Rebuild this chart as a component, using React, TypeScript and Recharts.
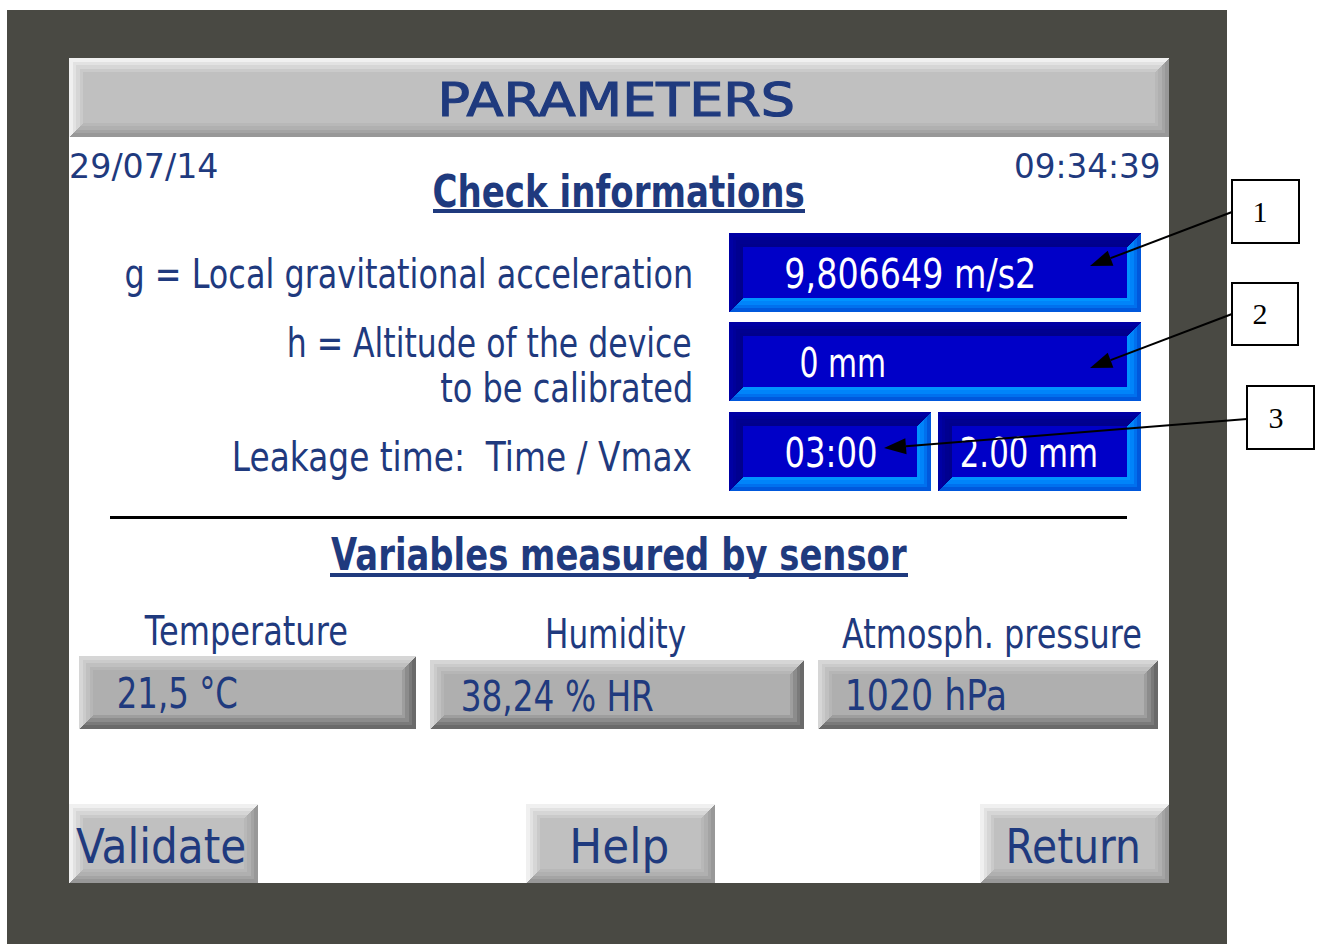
import React from 'react';
import { Surface, Rectangle, Polygon, Layer } from 'recharts';

// ---- content (text) ----
const headerTitle = 'PARAMETERS';
const stamps = ['29/07/14', '09:34:39'];
const sectionTitles = ['Check informations', 'Variables measured by sensor'];
const paramLabels = [
  'g = Local gravitational acceleration',
  'h = Altitude of the device',
  'to be calibrated',
  'Leakage time:  Time / Vmax',
];
const paramValues = ['9,806649 m/s2', '0 mm', '03:00', '2.00 mm'];
const sensorNames = ['Temperature', 'Humidity', 'Atmosph. pressure'];
const sensorValues = ['21,5 °C', '38,24 % HR', '1020 hPa'];
const buttonLabels = ['Validate', 'Help', 'Return'];
const calloutNumbers = ['1', '2', '3'];

// ---- styles ----
const W = 1317;
const H = 944;
const NAVY = '#1f3a7e';
const FRAME = '#494943';
const FONT = '"DejaVu Sans", sans-serif';
const SERIF = '"Liberation Serif", "DejaVu Serif", serif';

const GREY_LIGHT = ['#f0f0f0', '#e2e2e2', '#d6d6d6', '#cacaca'];
const GREY_DARK = ['#989898', '#a4a4a4', '#b0b0b0', '#b8b8b8'];
const GREY_FILL = '#c0c0c0';
const SENS_LIGHT = ['#d6d6d6', '#cbcbcb', '#c0c0c0', '#b6b6b6'];
const SENS_DARK = ['#6a6a6a', '#7a7a7a', '#8c8c8c', '#9e9e9e'];
const SENS_FILL = '#afafaf';
const BLUE_LIGHT = ['#0000a4', '#00009a', '#000090', '#00008c'];
const BLUE_DARK = ['#0058dc', '#0070ee', '#0084fa', '#0094ff'];
const BLUE_FILL = '#0000c8';
const BEVEL_STEPS = [4, 3, 4, 3];

let measureCtx: CanvasRenderingContext2D | null = null;
function measureInk(text: string, size: number, bold: boolean, family: string) {
  if (!measureCtx) {
    const c = document.createElement('canvas');
    measureCtx = c.getContext('2d');
  }
  const ctx = measureCtx as CanvasRenderingContext2D;
  ctx.font = `${bold ? 'bold ' : ''}${size}px ${family}`;
  const m = ctx.measureText(text);
  const left = m.actualBoundingBoxLeft || 0;
  const right = m.actualBoundingBoxRight || m.width;
  return { left, ink: left + right };
}

type BevelProps = {
  x: number; y: number; w: number; h: number;
  light: string[]; dark: string[]; fill: string;
};

function Bevel({ x, y, w, h, light, dark, fill }: BevelProps) {
  const parts: React.ReactNode[] = [];
  let off = 0;
  for (let i = 0; i < light.length; i++) {
    const s = BEVEL_STEPS[i];
    const bx = x + off;
    const by = y + off;
    const bw = w - 2 * off;
    const bh = h - 2 * off;
    parts.push(
      <Polygon
        key={`d${i}`}
        fill={dark[i]}
        stroke="none"
        shapeRendering="crispEdges"
        points={[
          { x: bx + bw, y: by },
          { x: bx + bw, y: by + bh },
          { x: bx, y: by + bh },
          { x: bx + s, y: by + bh - s },
          { x: bx + bw - s, y: by + bh - s },
          { x: bx + bw - s, y: by + s },
        ]}
      />,
      <Polygon
        key={`l${i}`}
        fill={light[i]}
        stroke="none"
        shapeRendering="crispEdges"
        points={[
          { x: bx, y: by },
          { x: bx + bw, y: by },
          { x: bx + bw - s, y: by + s },
          { x: bx + s, y: by + s },
          { x: bx + s, y: by + bh - s },
          { x: bx, y: by + bh },
        ]}
      />
    );
    off += s;
  }
  parts.push(
    <Rectangle
      key="f"
      x={x + off}
      y={y + off}
      width={w - 2 * off}
      height={h - 2 * off}
      fill={fill}
      shapeRendering="crispEdges"
    />
  );
  return <Layer>{parts}</Layer>;
}

type TProps = {
  x1: number; x2: number; base: number; size: number; text: string;
  color?: string; bold?: boolean; family?: string; thick?: number;
};

// Text whose ink spans x1..x2 horizontally (scaled to fit), baseline at `base`.
function T({ x1, x2, base, size, text, color = NAVY, bold = false, family = FONT, thick = 0 }: TProps) {
  const { left, ink } = measureInk(text, size, bold, family);
  const sx = ink > 0 ? (x2 - x1) / ink : 1;
  const tx = x1 + left * sx;
  return (
    <text
      x={0}
      y={0}
      transform={`translate(${tx.toFixed(2)} ${base}) scale(${sx.toFixed(4)} 1)`}
      fontSize={size}
      fill={color}
      stroke={thick ? color : 'none'}
      strokeWidth={thick}
      fontWeight={bold ? 700 : 400}
      fontFamily={family}
      xmlSpace="preserve"
      style={{ whiteSpace: 'pre' }}
    >
      {text}
    </text>
  );
}

function Arrow({ x1, y1, x2, y2 }: { x1: number; y1: number; x2: number; y2: number }) {
  const dx = x2 - x1;
  const dy = y2 - y1;
  const len = Math.sqrt(dx * dx + dy * dy);
  const ux = dx / len;
  const uy = dy / len;
  const hl = 22;
  const hw = 8;
  const bx = x2 - ux * hl;
  const by = y2 - uy * hl;
  return (
    <Layer>
      <line x1={x1} y1={y1} x2={bx} y2={by} stroke="#000" strokeWidth={2} />
      <Polygon
        fill="#000"
        stroke="none"
        points={[
          { x: x2, y: y2 },
          { x: bx - uy * hw, y: by + ux * hw },
          { x: bx + uy * hw, y: by - ux * hw },
        ]}
      />
    </Layer>
  );
}

export default function App() {
  const paramLabelPos = [
    { x1: 126, base: 288 },
    { x1: 289, base: 357 },
    { x1: 441, base: 402 },
    { x1: 235, base: 471 },
  ];
  const valueBoxes = [
    { x: 729, y: 233, w: 412, h: 79, tx1: 786, tx2: 1033, base: 288 },
    { x: 729, y: 322, w: 412, h: 79, tx1: 801, tx2: 884, base: 377 },
    { x: 729, y: 412, w: 202, h: 79, tx1: 786, tx2: 876, base: 467 },
    { x: 938, y: 412, w: 203, h: 79, tx1: 962, tx2: 1096, base: 467 },
  ];
  const sensorPos = [
    { nx1: 144, nx2: 347, nbase: 645, bx: 79, by: 656, bw: 337, bh: 73, vx1: 119, vx2: 237, vbase: 708 },
    { nx1: 548, nx2: 686, nbase: 648, bx: 430, by: 660, bw: 374, bh: 69, vx1: 463, vx2: 653, vbase: 711 },
    { nx1: 842, nx2: 1141, nbase: 648, bx: 818, by: 660, bw: 340, bh: 69, vx1: 848, vx2: 1004, vbase: 710 },
  ];
  const buttonPos = [
    { x: 69, w: 189, tx1: 76, tx2: 244 },
    { x: 526, w: 189, tx1: 573, tx2: 667 },
    { x: 980, w: 189, tx1: 1009, tx2: 1138 },
  ];
  const callouts = [
    { x: 1232, y: 180, w: 67, h: 63, nx: 1260, ax: 1232, ay: 212, tx: 1090, ty: 266 },
    { x: 1232, y: 283, w: 66, h: 62, nx: 1260, ax: 1232, ay: 314, tx: 1090, ty: 368 },
    { x: 1247, y: 386, w: 67, h: 63, nx: 1276, ax: 1247, ay: 419, tx: 884, ty: 448 },
  ];

  return (
    <div style={{ position: 'absolute', left: 0, top: 0, width: W, height: H, background: '#fff' }}>
      <Surface width={W} height={H}>
        {/* frame and screen */}
        <Rectangle x={7} y={10} width={1220} height={934} fill={FRAME} shapeRendering="crispEdges" />
        <Rectangle x={69} y={58} width={1100} height={825} fill="#ffffff" shapeRendering="crispEdges" />

        {/* title bar */}
        <Bevel x={69} y={58} w={1100} h={79} light={GREY_LIGHT} dark={GREY_DARK} fill={GREY_FILL} />
        <T x1={442} x2={793} base={116} size={47} text={headerTitle} thick={1.2} />

        {/* date / time */}
        <T x1={71} x2={217} base={178} size={34} text={stamps[0]} />
        <T x1={1016} x2={1159} base={178} size={34} text={stamps[1]} />

        {/* section 1 heading */}
        <T x1={434} x2={804} base={207} size={44} text={sectionTitles[0]} bold />
        <Rectangle x={433} y={209} width={372} height={4} fill={NAVY} shapeRendering="crispEdges" />

        {/* parameter labels (right aligned) */}
        {paramLabels.map((lab, i) => (
          <T key={lab} x1={paramLabelPos[i].x1} x2={691} base={paramLabelPos[i].base} size={41} text={lab} />
        ))}

        {/* parameter value boxes */}
        {paramValues.map((v, i) => {
          const b = valueBoxes[i];
          return (
            <Layer key={v}>
              <Bevel x={b.x} y={b.y} w={b.w} h={b.h} light={BLUE_LIGHT} dark={BLUE_DARK} fill={BLUE_FILL} />
              <T x1={b.tx1} x2={b.tx2} base={b.base} size={41} text={v} color="#ffffff" />
            </Layer>
          );
        })}

        {/* separator */}
        <Rectangle x={110} y={516} width={1017} height={3} fill="#000000" shapeRendering="crispEdges" />

        {/* section 2 heading */}
        <T x1={331} x2={907} base={570} size={44} text={sectionTitles[1]} bold />
        <Rectangle x={330} y={573} width={578} height={4} fill={NAVY} shapeRendering="crispEdges" />

        {/* sensors */}
        {sensorNames.map((name, i) => {
          const p = sensorPos[i];
          return (
            <Layer key={name}>
              <T x1={p.nx1} x2={p.nx2} base={p.nbase} size={41} text={name} />
              <Bevel x={p.bx} y={p.by} w={p.bw} h={p.bh} light={SENS_LIGHT} dark={SENS_DARK} fill={SENS_FILL} />
              <T x1={p.vx1} x2={p.vx2} base={p.vbase} size={42} text={sensorValues[i]} />
            </Layer>
          );
        })}

        {/* buttons */}
        {buttonLabels.map((lab, i) => {
          const b = buttonPos[i];
          return (
            <Layer key={lab}>
              <Bevel x={b.x} y={804} w={b.w} h={79} light={GREY_LIGHT} dark={GREY_DARK} fill={GREY_FILL} />
              <T x1={b.tx1} x2={b.tx2} base={863} size={48} text={lab} />
            </Layer>
          );
        })}

        {/* callouts */}
        {calloutNumbers.map((num, i) => {
          const c = callouts[i];
          return (
            <Layer key={num}>
              <Rectangle x={c.x} y={c.y} width={c.w} height={c.h} fill="#ffffff" stroke="#000000" strokeWidth={2} />
              <text
                x={c.nx}
                y={c.y + c.h / 2 + 10}
                textAnchor="middle"
                fontSize={30}
                fontFamily={SERIF}
                fill="#000000"
              >
                {num}
              </text>
              <Arrow x1={c.ax} y1={c.ay} x2={c.tx} y2={c.ty} />
            </Layer>
          );
        })}
      </Surface>
    </div>
  );
}
